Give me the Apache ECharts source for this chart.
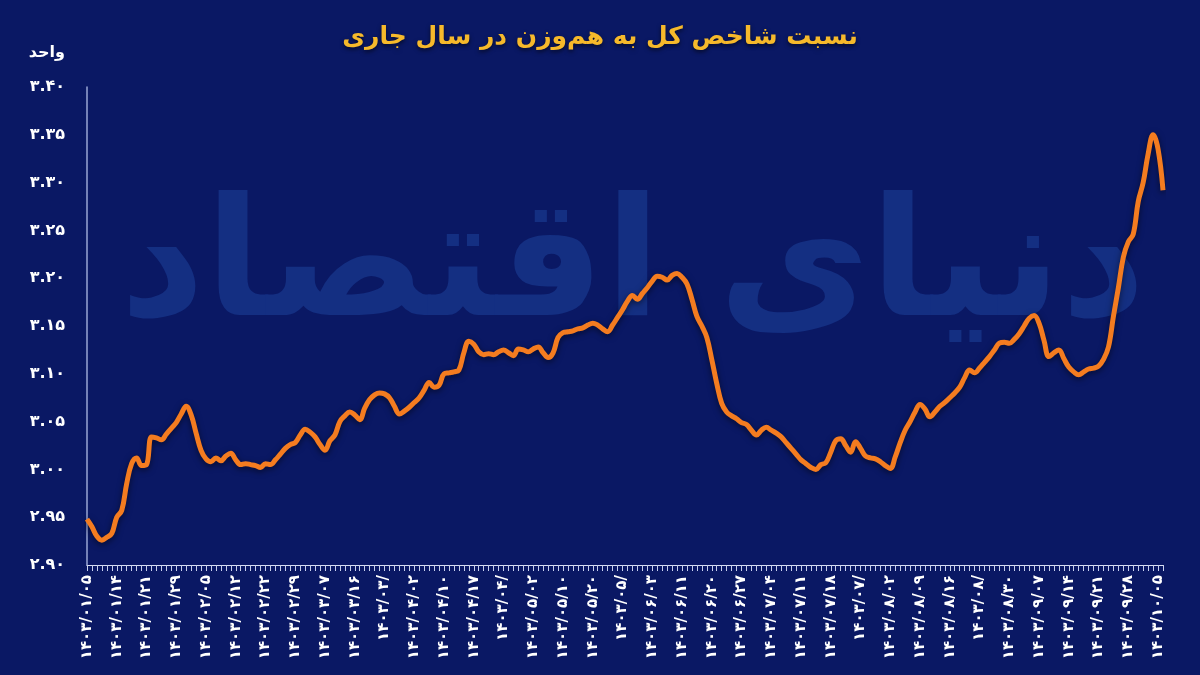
<!DOCTYPE html>
<html>
<head>
<meta charset="utf-8">
<script src="https://cdn.jsdelivr.net/npm/echarts@6/dist/echarts.min.js"></script>
<style>
html,body{margin:0;padding:0;background:#0a1762;}
#chart{width:1200px;height:675px;}
</style>
</head>
<body>
<div id="chart"></div>
<script>
// Chart title and axis name
const titleText = 'نسبت شاخص کل به هم‌وزن در سال جاری';
const yAxisName = 'واحد';

// X tick labels (one every 6 trading days)
const xTickLabels = [
  '۱۴۰۳/۰۱/۰۵','۱۴۰۳/۰۱/۱۴','۱۴۰۳/۰۱/۲۱','۱۴۰۳/۰۱/۲۹','۱۴۰۳/۰۲/۰۵','۱۴۰۳/۰۲/۱۲',
  '۱۴۰۳/۰۲/۲۲','۱۴۰۳/۰۲/۲۹','۱۴۰۳/۰۳/۰۷','۱۴۰۳/۰۳/۱۶','۱۴۰۳/۰۳/','۱۴۰۳/۰۴/۰۲',
  '۱۴۰۳/۰۴/۱۰','۱۴۰۳/۰۴/۱۷','۱۴۰۳/۰۴/','۱۴۰۳/۰۵/۰۲','۱۴۰۳/۰۵/۱۰','۱۴۰۳/۰۵/۲۰',
  '۱۴۰۳/۰۵/','۱۴۰۳/۰۶/۰۳','۱۴۰۳/۰۶/۱۱','۱۴۰۳/۰۶/۲۰','۱۴۰۳/۰۶/۲۷','۱۴۰۳/۰۷/۰۴',
  '۱۴۰۳/۰۷/۱۱','۱۴۰۳/۰۷/۱۸','۱۴۰۳/۰۷/','۱۴۰۳/۰۸/۰۲','۱۴۰۳/۰۸/۰۹','۱۴۰۳/۰۸/۱۶',
  '۱۴۰۳/۰۸/','۱۴۰۳/۰۸/۳۰','۱۴۰۳/۰۹/۰۷','۱۴۰۳/۰۹/۱۴','۱۴۰۳/۰۹/۲۱','۱۴۰۳/۰۹/۲۸',
  '۱۴۰۳/۱۰/۰۵'
];
const labelEvery = 6;

// Y tick labels
const yTickLabels = ['۲.۹۰','۲.۹۵','۳.۰۰','۳.۰۵','۳.۱۰','۳.۱۵','۳.۲۰','۳.۲۵','۳.۳۰','۳.۳۵','۳.۴۰'];

// Ratio values (one per trading day)
const ratioValues = [
  2.948,2.940,2.930,2.926,2.929,2.933,2.950,2.957,2.985,3.006,
  3.012,3.004,3.005,3.034,3.033,3.031,3.037,3.043,3.049,3.058,
  3.066,3.057,3.038,3.020,3.011,3.008,3.012,3.009,3.014,3.017,
  3.010,3.005,3.006,3.005,3.004,3.002,3.006,3.005,3.010,3.016,
  3.022,3.026,3.028,3.036,3.042,3.039,3.034,3.026,3.020,3.030,
  3.036,3.050,3.056,3.060,3.057,3.052,3.064,3.073,3.078,3.080,
  3.079,3.075,3.066,3.058,3.061,3.065,3.070,3.075,3.083,3.091,
  3.086,3.088,3.100,3.101,3.102,3.104,3.122,3.134,3.131,3.123,
  3.120,3.121,3.120,3.123,3.125,3.122,3.119,3.126,3.125,3.123,
  3.126,3.128,3.122,3.117,3.122,3.138,3.143,3.144,3.145,3.147,
  3.148,3.151,3.153,3.151,3.147,3.144,3.151,3.159,3.167,3.176,
  3.182,3.178,3.184,3.190,3.197,3.202,3.201,3.198,3.203,3.205,
  3.201,3.194,3.178,3.160,3.150,3.138,3.115,3.090,3.069,3.060,
  3.056,3.053,3.049,3.047,3.041,3.036,3.041,3.044,3.041,3.038,
  3.034,3.028,3.022,3.016,3.010,3.006,3.002,3.000,3.005,3.007,
  3.018,3.030,3.032,3.025,3.018,3.029,3.022,3.014,3.012,3.011,
  3.008,3.004,3.001,3.013,3.028,3.041,3.050,3.060,3.068,3.063,
  3.055,3.060,3.066,3.070,3.075,3.080,3.086,3.096,3.104,3.101,
  3.106,3.112,3.118,3.125,3.132,3.133,3.132,3.136,3.142,3.150,
  3.158,3.161,3.153,3.135,3.118,3.122,3.125,3.116,3.107,3.102,
  3.099,3.102,3.105,3.106,3.108,3.115,3.128,3.160,3.190,3.222,
  3.238,3.246,3.280,3.300,3.330,3.350,3.335,3.292
];

const categories = ratioValues.map((v, i) =>
  (i % labelEvery === 0 && xTickLabels[i / labelEvery] !== undefined) ? xTickLabels[i / labelEvery] : ''
);

const FONT = "'DejaVu Sans', sans-serif";
const chart = echarts.init(document.getElementById('chart'), null, {renderer: 'canvas'});
chart.setOption({
  backgroundColor: '#0a1864',
  animation: false,
  graphic: [{
    type: 'text',
    left: 120, top: 190, z: -10, silent: true,
    style: {
      text: 'دنیای اقتصاد',
      font: "bold 165px 'DejaVu Sans', sans-serif",
      fill: '#142f82'
    }
  }],
  title: {
    text: titleText,
    left: 'center', top: 20,
    textStyle: {
      color: '#f6b92b', fontSize: 25, fontWeight: 'bold', fontFamily: FONT,
      textShadowColor: 'rgba(0,0,0,0.6)', textShadowBlur: 4, textShadowOffsetY: 2
    }
  },
  grid: {left: 87, right: 37, top: 87, bottom: 110, containLabel: false},
  xAxis: {
    type: 'category',
    data: categories,
    boundaryGap: false,
    axisLine: {show: true, lineStyle: {color: '#d8def2', width: 1}},
    axisTick: {show: true, interval: 0, length: 6, lineStyle: {color: '#c9d1ee', width: 1}},
    axisLabel: {
      interval: labelEvery - 1, rotate: 90, margin: 10,
      color: '#ffffff', fontSize: 15, fontWeight: 'bold', fontFamily: FONT
    },
    splitLine: {show: false}
  },
  yAxis: {
    type: 'value',
    min: 2.90, max: 3.40, interval: 0.05,
    name: yAxisName,
    nameLocation: 'end',
    nameGap: 26,
    nameTextStyle: {color: '#ffffff', fontSize: 16, fontWeight: 'bold', fontFamily: FONT, align: 'right', padding: [0, 22, 0, 0]},
    axisLine: {show: true, lineStyle: {color: '#9aa6d4', width: 1.5}},
    axisTick: {show: false},
    splitLine: {show: false},
    axisLabel: {
      margin: 22, color: '#ffffff', fontSize: 16, fontWeight: 'bold', fontFamily: FONT,
      formatter: v => yTickLabels[Math.round((v - 2.90) / 0.05)]
    }
  },
  series: [{
    type: 'line',
    data: ratioValues,
    showSymbol: false,
    smooth: 0.4,
    lineStyle: {
      color: '#f47c20', width: 5,
      shadowColor: 'rgba(0,0,0,0.55)', shadowBlur: 6, shadowOffsetY: 2
    },
    z: 5
  }]
});
</script>
</body>
</html>
